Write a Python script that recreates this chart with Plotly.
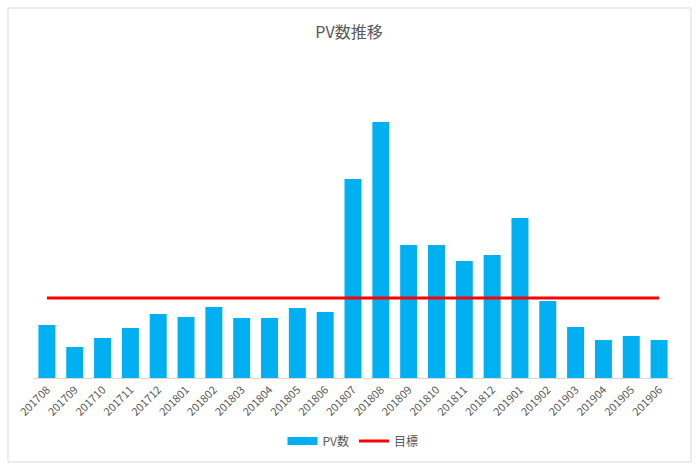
import plotly.graph_objects as go

# Dados
meses = ["201708", "201709", "201710", "201711", "201712", "201801", "201802",
         "201803", "201804", "201805", "201806", "201807", "201808", "201809",
         "201810", "201811", "201812", "201901", "201902", "201903", "201904",
         "201905", "201906"]
pv = [53, 31, 40, 50, 64, 61, 71, 60, 60, 70, 66, 199, 256, 133,
      133, 117, 123, 160, 77, 51, 38, 42, 38]
meta = [80] * len(meses)

fonte = "Noto Sans CJK JP"
cinza = "#595959"
azul = "#00B0F0"

fig = go.Figure()
fig.add_trace(
    go.Bar(
        x = meses,
        y = pv,
        name = "PV数",
        marker_color = azul,
        marker_line_width = 0,
        showlegend = False
        )
    )
# entrada de legenda retangular (como no Excel)
fig.add_trace(
    go.Scatter(
        x = [None],
        y = [None],
        name = "PV数",
        mode = "lines",
        line_color = azul,
        line_width = 8
        )
    )
fig.add_trace(
    go.Scatter(
        x = meses,
        y = meta,
        name = "目標",
        mode = "lines",
        line_color = "#FF0000",
        line_width = 3
        )
    )

fig.update_layout(
    width = 698,
    height = 472,
    margin = dict(l = 33, r = 25, t = 78, b = 94),
    paper_bgcolor = "white",
    plot_bgcolor = "white",
    bargap = 0.39,
    font = dict(family = fonte, color = cinza),
    title = dict(
        text = "PV数推移",
        x = 0.5,
        xanchor = "center",
        y = 1 - 32 / 472,
        yanchor = "middle",
        font = dict(size = 16, color = cinza, family = fonte)
        ),
    xaxis = dict(
        type = "category",
        tickangle = -45,
        tickfont = dict(size = 11, color = cinza),
        showline = True,
        linecolor = "#d9d9d9",
        linewidth = 1,
        showgrid = False,
        ticks = ""
        ),
    yaxis = dict(
        range = [0, 300],
        visible = False,
        showgrid = False,
        zeroline = False
        ),
    legend = dict(
        orientation = "h",
        x = 0.5,
        xanchor = "center",
        y = -0.21,
        yanchor = "middle",
        font = dict(size = 12, color = cinza),
        itemwidth = 30
        ),
    showlegend = True
)

# Borda do gráfico
fig.add_shape(
    type = "rect",
    xref = "paper", yref = "paper",
    x0 = (8 - 33) / 640, x1 = (691 - 33) / 640,
    y0 = (378 - 462) / 300, y1 = (378 - 8) / 300,
    line = dict(color = "#d9d9d9", width = 1),
    fillcolor = "rgba(0,0,0,0)",
    layer = "below"
)

fig.write_html(
    "out.html",
    config = {"displayModeBar": False},
    post_script = "document.body.style.margin = '0';"
)
